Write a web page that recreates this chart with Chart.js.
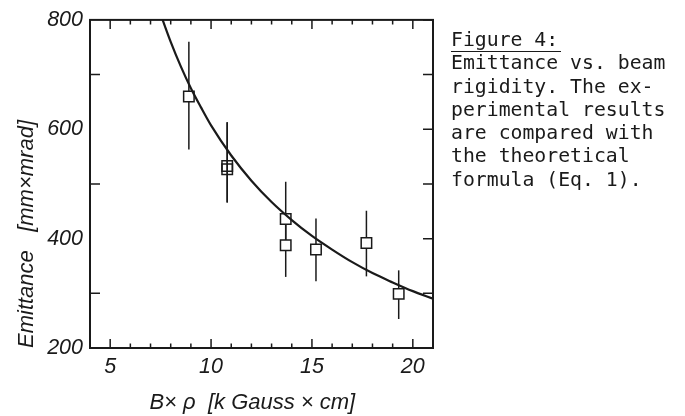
<!DOCTYPE html>
<html>
<head>
<meta charset="utf-8">
<script src="https://cdn.jsdelivr.net/npm/chart.js@4/dist/chart.umd.min.js"></script>
<style>
  html, body { margin: 0; padding: 0; background: #fff; }
  #wrap { position: relative; width: 685px; height: 416px; }
  #caption {
    position: absolute; left: 451px; top: 28px;
    font-family: "DejaVu Sans Mono", monospace; font-size: 19.8px;
    line-height: 23.3px; color: #1a1a1a; white-space: pre;
  }
  #caption .fig { border-bottom: 1.5px solid #1a1a1a; padding-right: 3px; }
</style>
</head>
<body>
<div id="wrap">
  <canvas id="grafico" width="685" height="416"></canvas>
  <div id="caption"><span class="fig">Figure 4:</span>
Emittance vs. beam
rigidity. The ex-
perimental results
are compared with
the theoretical
formula (Eq. 1).</div>
</div>
<script>
const medX = [8.9, 10.8, 10.8, 13.7, 13.7, 15.2, 17.7, 19.3];
const medY = [660, 533, 527, 436, 388, 380, 392, 299];
const erroAlto = [760, 613, 613, 504, 436, 437, 451, 342];
const erroBaixo = [563, 466, 466, 388, 330, 322, 331, 253];

// curva teorica, pontos lidos ao longo da linha
const curvaX = [7.6, 8, 8.5, 9, 9.5, 10, 11, 12, 13, 14, 15, 16, 17, 18, 19, 20, 21];
const curvaY = [800, 760, 715, 675, 640, 607, 552, 506, 467, 434, 405, 380, 357, 337, 320, 304, 290];

const tinta = '#1a1a1a';

// barras de erro, antes dos pontos
const barrasErro = {
  id: 'barrasErro',
  beforeDatasetsDraw(chart) {
    const ctx = chart.ctx, sx = chart.scales.x, sy = chart.scales.y;
    ctx.save();
    ctx.strokeStyle = tinta;
    ctx.lineWidth = 1.5;
    for (let i = 0; i < medX.length; i++) {
      const x = sx.getPixelForValue(medX[i]);
      ctx.beginPath();
      ctx.moveTo(x, sy.getPixelForValue(erroAlto[i]));
      ctx.lineTo(x, sy.getPixelForValue(erroBaixo[i]));
      ctx.stroke();
    }
    ctx.restore();
  }
};

// moldura e tracos para dentro
const moldura = {
  id: 'moldura',
  afterDraw(chart) {
    const ctx = chart.ctx, a = chart.chartArea;
    const sx = chart.scales.x, sy = chart.scales.y;
    ctx.save();
    ctx.strokeStyle = tinta;
    ctx.lineWidth = 1.5;
    ctx.beginPath();
    for (const t of sx.ticks) {
      const x = sx.getPixelForValue(t.value);
      const len = t.value % 5 === 0 ? 9 : 4.5;
      ctx.moveTo(x, a.bottom); ctx.lineTo(x, a.bottom - len);
      ctx.moveTo(x, a.top); ctx.lineTo(x, a.top + len);
    }
    for (const t of sy.ticks) {
      const y = sy.getPixelForValue(t.value);
      if (t.value % 200 !== 0) {
        ctx.moveTo(a.left, y); ctx.lineTo(a.left + 10, y);
      }
      ctx.moveTo(a.right, y); ctx.lineTo(a.right - 10, y);
    }
    ctx.stroke();
    ctx.lineWidth = 2;
    ctx.strokeRect(a.left, a.top, a.right - a.left, a.bottom - a.top);
    ctx.restore();
  }
};

const fonteTicks = { family: 'Liberation Sans', size: 21.5, style: 'italic' };
const fonteTitulo = { family: 'Liberation Sans', size: 22, style: 'italic' };

new Chart(document.getElementById('grafico'), {
  type: 'scatter',
  data: {
    datasets: [
      {
        label: 'teoria',
        data: curvaX.map((x, i) => ({ x: x, y: curvaY[i] })),
        showLine: true,
        borderColor: tinta,
        borderWidth: 2.2,
        pointRadius: 0,
        cubicInterpolationMode: 'monotone',
        order: 0
      },
      {
        label: 'medidas',
        data: medX.map((x, i) => ({ x: x, y: medY[i] })),
        showLine: false,
        pointStyle: 'rect',
        pointRadius: 7.4,
        pointBorderWidth: 1.5,
        pointBorderColor: tinta,
        pointBackgroundColor: ['#fff', 'rgba(0,0,0,0)', 'rgba(0,0,0,0)', '#fff', '#fff', '#fff', '#fff', '#fff'],
        order: 1
      }
    ]
  },
  options: {
    responsive: false,
    animation: false,
    layout: { padding: { left: 0, right: 252, top: 19.5, bottom: 0 } },
    scales: {
      x: {
        type: 'linear',
        min: 4, max: 21,
        grid: { display: false, drawTicks: false },
        border: { display: false },
        ticks: {
          stepSize: 1, autoSkip: false, maxRotation: 0,
          color: tinta, font: fonteTicks, padding: 6,
          callback: v => (v % 5 === 0 ? String(v) : '')
        },
        title: {
          display: true, text: 'B× ρ  [k Gauss × cm]   ',
          color: tinta, font: fonteTitulo, padding: { top: 0, bottom: 0 }
        },
        afterFit: s => { s.height = 68; }
      },
      y: {
        type: 'linear',
        min: 200, max: 800,
        grid: { display: false, drawTicks: false },
        border: { display: false },
        ticks: {
          stepSize: 100, autoSkip: false,
          color: tinta, font: fonteTicks, padding: 7,
          callback: v => (v % 200 === 0 ? String(v) : '')
        },
        title: {
          display: true, text: 'Emittance   [mm×mrad]', align: 'start',
          color: tinta, font: fonteTitulo, padding: { top: 14, bottom: 0 }
        },
        afterFit: s => { s.width = 90; }
      }
    },
    plugins: {
      legend: { display: false },
      tooltip: { enabled: false }
    }
  },
  plugins: [barrasErro, moldura]
});
</script>
</body>
</html>
